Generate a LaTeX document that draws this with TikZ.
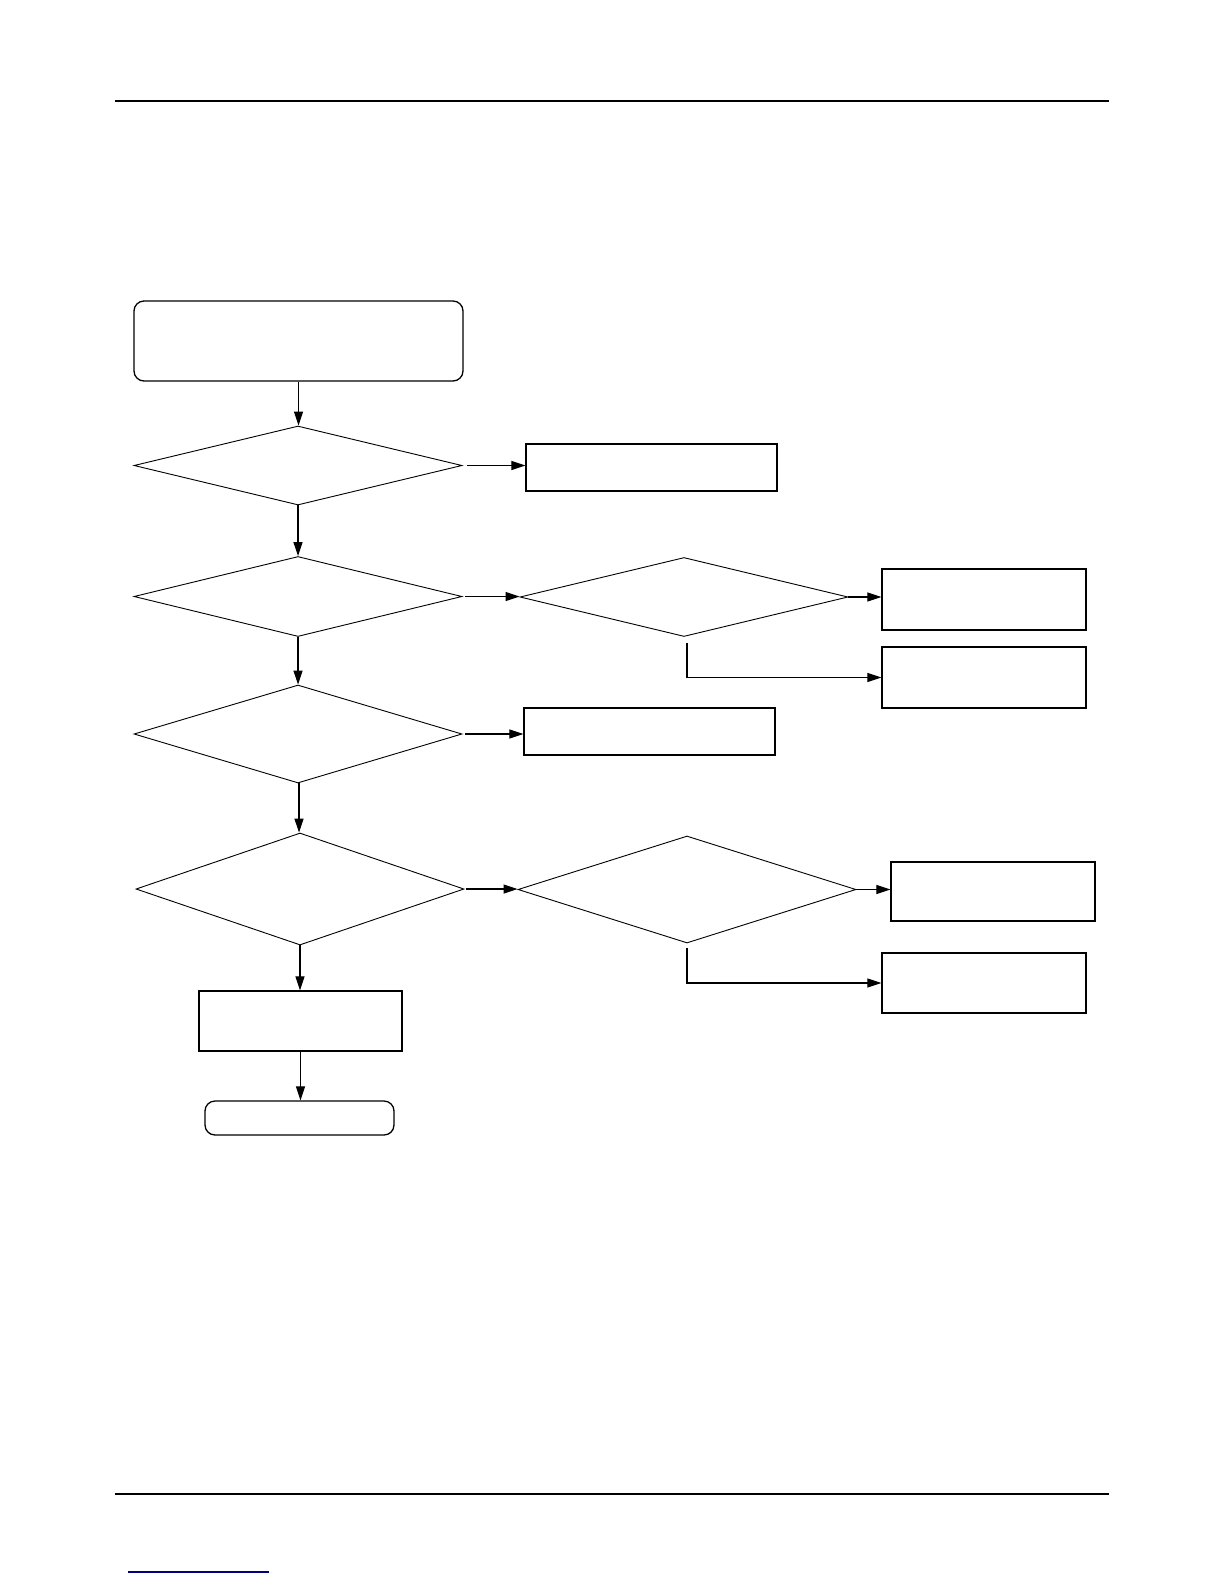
\documentclass[tikz,border=0pt]{standalone}
\usepackage{tikz}
\usetikzlibrary{shapes.geometric, arrows.meta, positioning, calc}

\begin{document}
\begin{tikzpicture}[x=1pt, y=-1pt, >={Triangle[length=14pt,width=9pt]},
    line width=1.1pt,
    box/.style={draw, line width=1.3pt, inner sep=0pt},
    rbox/.style={box, rounded corners=10pt},
    ask/.style={draw, diamond, line width=0.9pt, inner sep=0pt},
    arr/.style={->, line width=1.1pt}]
          \useasboundingbox (0,0) rectangle (1224,1584);

          % page rules
          \draw[line width=1.6pt] (115,101) -- (1109,101);
          \draw[line width=1.6pt] (115,1494) -- (1109,1494);
          \draw[line width=1.6pt, blue!50!black] (128,1572) -- (269,1572);

          % main column
          \node[rbox, minimum width=329, minimum height=80] (start) at (298.5,341) {};
          \node[ask, minimum width=328, minimum height=79] (qOne) at (298,465.5) {};
          \node[ask, minimum width=328, minimum height=80] (qTwo) at (298,596.5) {};
          \node[ask, minimum width=328, minimum height=98] (qThree) at (298,734) {};
          \node[ask, minimum width=328, minimum height=112] (qFour) at (300,889) {};
          \node[box, minimum width=203, minimum height=60] (act) at (300.5,1021) {};
          \node[rbox, minimum width=189, minimum height=34] (finish) at (299.5,1118) {};

          % side branches
          \node[box, minimum width=251, minimum height=47] (fixOne) at (651.5,467.5) {};
          \node[ask, minimum width=328, minimum height=79] (qTwoB) at (684,597) {};
          \node[box, minimum width=204, minimum height=61] (fixTwoA) at (984,599.5) {};
          \node[box, minimum width=204, minimum height=61] (fixTwoB) at (984,677.5) {};
          \node[box, minimum width=251, minimum height=47] (fixThree) at (649.5,731.5) {};
          \node[ask, minimum width=338, minimum height=107] (qFourB) at (687,889.5) {};
          \node[box, minimum width=204, minimum height=59] (fixFourA) at (993,891.5) {};
          \node[box, minimum width=204, minimum height=60] (fixFourB) at (984,983) {};

          % down the column
          \draw[arr] (start.south) -- (start.south |- qOne.north);
          \draw[arr] (qOne.south) -- (qOne.south |- qTwo.north);
          \draw[arr] (qTwo.south) -- (qTwo.south |- qThree.north);
          \draw[arr] ([xshift=1pt]qThree.south) -- ([xshift=1pt]qThree.south |- qFour.north);
          \draw[arr] (qFour.south) -- (qFour.south |- act.north);
          \draw[arr] (act.south) -- (act.south |- finish.north);

          % to the right
          \draw[arr, shorten <=5pt] (qOne.east) -- (qOne.east -| fixOne.west);
          \draw[arr, shorten <=3pt] (qTwo.east) -- (qTwo.east -| qTwoB.west);
          \draw[arr] (qTwoB.east) -- (qTwoB.east -| fixTwoA.west);
          \draw[arr] ([xshift=3pt,yshift=-6pt]qTwoB.south) |- (fixTwoB.west);
          \draw[arr, shorten <=3pt] (qThree.east) -- (qThree.east -| fixThree.west);
          \draw[arr, shorten <=2pt] (qFour.east) -- (qFour.east -| qFourB.west);
          \draw[arr] (qFourB.east) -- (qFourB.east -| fixFourA.west);
          \draw[arr] ([yshift=-5pt]qFourB.south) |- (fixFourB.west);
\end{tikzpicture}
\end{document}
